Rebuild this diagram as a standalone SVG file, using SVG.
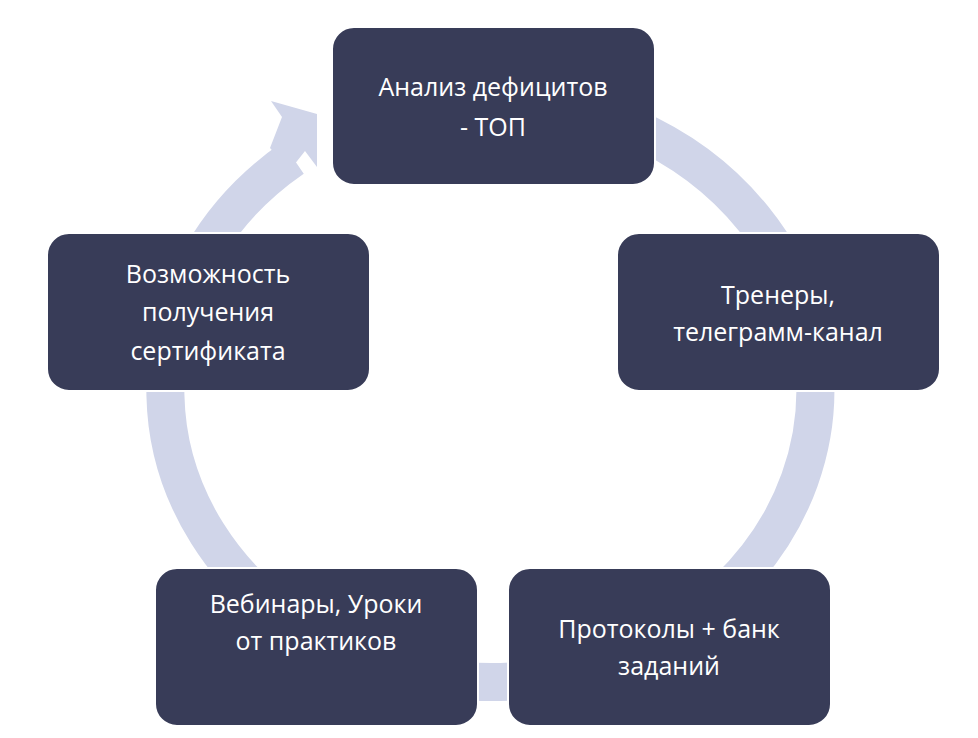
<svg xmlns="http://www.w3.org/2000/svg" width="978" height="738" viewBox="0 0 978 738">
<style>
.b{fill:#383C58;stroke:#fff;stroke-width:2}
.t{fill:#fff;font-family:"Open Sans","Liberation Sans",sans-serif;font-size:25px;text-anchor:middle}
</style>
<rect width="978" height="738" fill="#fff"/>
<g id="connectors">
<path d="M 293 158 A 325 292 0 1 0 493 98" fill="none" stroke="#D0D5E9" stroke-width="38"/>
<polygon points="282,117 271,101 317,114 317,167 305,151 290,170 270,148" fill="#D0D5E9"/>
</g>
<g id="n1"><rect class="b" x="332" y="27" width="323" height="158" rx="22"/><text class="t" x="493" y="96">Анализ дефицитов</text><text class="t" x="493" y="136">- ТОП</text></g>
<g id="n2"><rect class="b" x="617" y="233" width="323" height="158" rx="22"/><text class="t" x="778" y="304">Тренеры,</text><text class="t" x="778" y="341">телеграмм-канал</text></g>
<g id="n3"><rect class="b" x="508" y="568" width="323" height="158" rx="22"/><text class="t" x="669" y="638">Протоколы + банк</text><text class="t" x="669" y="675">заданий</text></g>
<g id="n4"><rect class="b" x="155" y="568" width="323" height="158" rx="22"/><text class="t" x="316" y="613">Вебинары, Уроки</text><text class="t" x="316" y="650">от практиков</text></g>
<g id="n5"><rect class="b" x="47" y="233" width="323" height="158" rx="22"/><text class="t" x="208" y="283">Возможность</text><text class="t" x="208" y="321">получения</text><text class="t" x="208" y="360">сертификата</text></g>
</svg>
